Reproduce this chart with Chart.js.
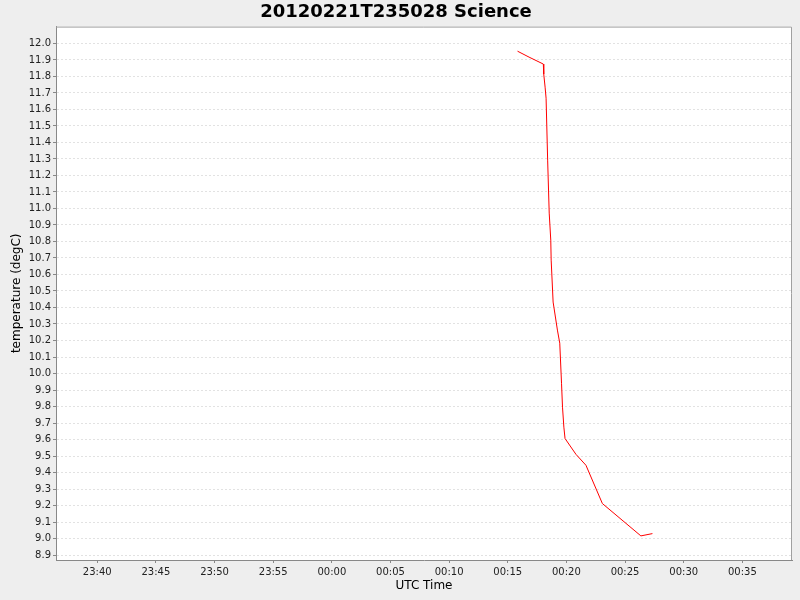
<!DOCTYPE html>
<html>
<head>
<meta charset="utf-8">
<script src="https://cdn.jsdelivr.net/npm/chart.js@4"></script>
<style>
  body { margin: 0; background: #eeeeee; }
  canvas { display: block; }
</style>
</head>
<body>
<canvas id="tempChart" width="800" height="600"></canvas>
<script>
// sample times (UTC) and temperature readings
const times = [
  '00:15:50', '00:16:49', '00:18:02', '00:18:04', '00:18:11', '00:18:16',
  '00:18:24', '00:18:32', '00:18:40', '00:18:42', '00:18:52', '00:19:14',
  '00:19:26', '00:19:35', '00:19:40', '00:19:47', '00:19:53', '00:20:49',
  '00:21:40', '00:23:04', '00:26:21', '00:27:20'
];
const temperature = [
  11.953, 11.917, 11.875, 11.814, 11.735, 11.668,
  11.293, 10.972, 10.808, 10.687, 10.433, 10.263,
  10.184, 9.941, 9.796, 9.675, 9.606, 9.510,
  9.444, 9.212, 9.016, 9.030
];

const xTickLabels = ['23:40', '23:45', '23:50', '23:55', '00:00', '00:05',
  '00:10', '00:15', '00:20', '00:25', '00:30', '00:35'];
const yTickLabels = ['8.9', '9.0', '9.1', '9.2', '9.3', '9.4', '9.5', '9.6',
  '9.7', '9.8', '9.9', '10.0', '10.1', '10.2', '10.3', '10.4', '10.5', '10.6',
  '10.7', '10.8', '10.9', '11.0', '11.1', '11.2', '11.3', '11.4', '11.5',
  '11.6', '11.7', '11.8', '11.9', '12.0'];

const xRange = ['23:36:29', '00:39:14'];
const yRange = [8.87, 12.102];

// minutes relative to midnight, times before noon of prev day go negative
const toMinutes = (t) => {
  const p = t.split(':').map(Number);
  let m = p[0] * 60 + p[1] + (p[2] || 0) / 60;
  if (p[0] >= 12) m -= 24 * 60;
  return m;
};

const points = times.map((t, i) => ({ x: toMinutes(t), y: temperature[i] }));
const xTickValues = xTickLabels.map(toMinutes);
const yTickValues = yTickLabels.map(Number);

const fontFamily = "'DejaVu Sans', sans-serif";

const plotBackground = {
  id: 'plotBackground',
  beforeDraw(chart) {
    const { ctx, chartArea: a } = chart;
    ctx.save();
    ctx.fillStyle = '#eeeeee';
    ctx.fillRect(0, 0, chart.width, chart.height);
    ctx.fillStyle = '#ffffff';
    ctx.fillRect(a.left, a.top, a.right - a.left, a.bottom - a.top);
    ctx.restore();
  },
  afterDraw(chart) {
    const { ctx, chartArea: a } = chart;
    ctx.save();
    ctx.strokeStyle = '#a0a0a0';
    ctx.lineWidth = 1;
    ctx.beginPath();
    ctx.moveTo(a.left, a.top + 0.5);
    ctx.lineTo(a.right - 0.5, a.top + 0.5);
    ctx.lineTo(a.right - 0.5, a.bottom);
    ctx.stroke();
    ctx.restore();
  }
};

new Chart(document.getElementById('tempChart'), {
  type: 'line',
  data: {
    datasets: [{
      label: 'temperature',
      data: points,
      borderColor: 'rgb(255, 0, 0)',
      borderWidth: 1,
      pointRadius: 0,
      fill: false,
      tension: 0
    }]
  },
  options: {
    responsive: false,
    animation: false,
    layout: { padding: { left: 0, right: 8, top: 0, bottom: 0 } },
    plugins: {
      legend: { display: false },
      tooltip: { enabled: false },
      title: {
        display: true,
        text: '20120221T235028 Science',
        color: '#000',
        font: { family: fontFamily, size: 18, weight: 'bold' },
        padding: { top: 2, bottom: 3 }
      }
    },
    scales: {
      x: {
        type: 'linear',
        position: 'bottom',
        min: toMinutes(xRange[0]),
        max: toMinutes(xRange[1]),
        afterBuildTicks: (scale) => {
          scale.ticks = xTickValues.map(v => ({ value: v }));
        },
        afterFit: (scale) => { scale.height = 40; },
        ticks: {
          autoSkip: false,
          maxRotation: 0,
          padding: 3,
          color: '#222',
          font: { family: fontFamily, size: 10 },
          callback: (value, index) => xTickLabels[index]
        },
        grid: {
          drawOnChartArea: false,
          tickLength: 3,
          tickColor: '#888'
        },
        border: { color: '#888' },
        title: {
          display: true,
          text: 'UTC Time',
          color: '#000',
          font: { family: fontFamily, size: 12 },
          padding: { top: 0, bottom: 7 }
        }
      },
      y: {
        type: 'linear',
        min: yRange[0],
        max: yRange[1],
        afterBuildTicks: (scale) => {
          scale.ticks = yTickValues.map(v => ({ value: v }));
        },
        afterFit: (scale) => { scale.width = 56; },
        ticks: {
          autoSkip: false,
          padding: 2,
          color: '#222',
          font: { family: fontFamily, size: 10 },
          callback: (value, index) => yTickLabels[index]
        },
        grid: {
          color: '#e2e2e2',
          tickBorderDash: [],
          tickLength: 3,
          tickColor: '#888'
        },
        border: { color: '#888', dash: [2, 2] },
        title: {
          display: true,
          text: 'temperature (degC)',
          color: '#000',
          font: { family: fontFamily, size: 12 },
          padding: { top: 10, bottom: 0 }
        }
      }
    }
  },
  plugins: [plotBackground]
});
</script>
</body>
</html>
